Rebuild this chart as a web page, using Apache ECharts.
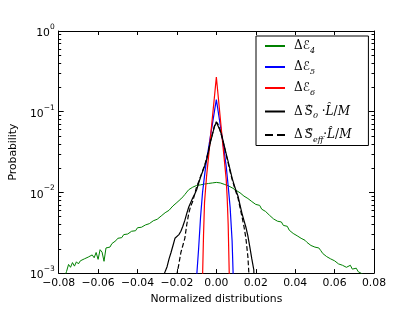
<!DOCTYPE html>
<html><head><meta charset="utf-8">
<script src="https://cdn.jsdelivr.net/npm/echarts@6/dist/echarts.min.js"></script>
<style>html,body{margin:0;padding:0;background:#fff}#c{width:416px;height:310px}</style>
</head><body><div id="c"></div>
<script>
// ---- data ----
const xTicks = [-0.08, -0.06, -0.04, -0.02, 0.00, 0.02, 0.04, 0.06, 0.08];
const yTicks = [0.001, 0.01, 0.1, 1];
const yMinor = [0.002,0.003,0.004,0.005,0.006,0.007,0.008,0.009,0.02,0.03,0.04,0.05,0.06,0.07,0.08,0.09,0.2,0.3,0.4,0.5,0.6,0.7,0.8,0.9];
const seriesNames = ['dE4','dE5','dE6','dS0','dSeff'];

const dE4 = [[-0.077,0.0009],[-0.076,0.00105],[-0.075,0.00128],[-0.074,0.00118],[-0.073,0.00135],[-0.072,0.00122],[-0.071,0.00138],[-0.070,0.0013],[-0.069,0.00142],[-0.068,0.00136],[-0.067,0.0015],[-0.066,0.00145],[-0.065,0.00158],[-0.064,0.0015],[-0.063,0.00168],[-0.062,0.00155],[-0.061,0.0018],[-0.060,0.00148],[-0.059,0.00195],[-0.058,0.00182],[-0.057,0.0014],[-0.056,0.00205],[-0.055,0.00215],[-0.054,0.0021],[-0.053,0.00232],[-0.052,0.0024],[-0.051,0.00252],[-0.050,0.0027],[-0.049,0.00285],[-0.048,0.00275],[-0.047,0.003],[-0.046,0.0031],[-0.045,0.00305],[-0.044,0.0032],[-0.043,0.0033],[-0.042,0.00345],[-0.041,0.00335],[-0.040,0.00365],[-0.039,0.0038],[-0.038,0.0037],[-0.037,0.00355],[-0.036,0.00395],[-0.035,0.0039],[-0.034,0.0041],[-0.033,0.0042],[-0.032,0.00445],[-0.031,0.0047],[-0.030,0.00465],[-0.029,0.0049],[-0.028,0.0051],[-0.027,0.00525],[-0.026,0.0056],[-0.025,0.0058],[-0.024,0.006],[-0.023,0.0064],[-0.022,0.0068],[-0.021,0.007],[-0.020,0.0075],[-0.019,0.0079],[-0.018,0.0083],[-0.017,0.0088],[-0.016,0.0094],[-0.015,0.0101],[-0.014,0.0108],[-0.013,0.0113],[-0.012,0.0116],[-0.011,0.012],[-0.010,0.0122],[-0.009,0.0125],[-0.008,0.0124],[-0.007,0.0128],[-0.006,0.0127],[-0.005,0.013],[-0.004,0.0129],[-0.003,0.0132],[-0.002,0.0131],[-0.001,0.0134],[0.000,0.0133],[0.001,0.0135],[0.002,0.0131],[0.003,0.0129],[0.004,0.0126],[0.005,0.0124],[0.006,0.0121],[0.007,0.0118],[0.008,0.0114],[0.009,0.011],[0.010,0.0106],[0.011,0.0102],[0.012,0.0099],[0.013,0.0095],[0.014,0.009],[0.015,0.0088],[0.016,0.0084],[0.017,0.0081],[0.018,0.0077],[0.019,0.0074],[0.020,0.0071],[0.021,0.0068],[0.022,0.0069],[0.023,0.0062],[0.024,0.006],[0.025,0.0058],[0.026,0.0055],[0.027,0.0052],[0.028,0.005],[0.029,0.0047],[0.030,0.0048],[0.031,0.0044],[0.032,0.0042],[0.033,0.0043],[0.034,0.0039],[0.035,0.0037],[0.036,0.0038],[0.037,0.0034],[0.038,0.0033],[0.039,0.0031],[0.040,0.0032],[0.041,0.0029],[0.042,0.003],[0.043,0.0027],[0.044,0.0028],[0.045,0.00255],[0.046,0.0024],[0.047,0.00245],[0.048,0.0022],[0.049,0.0023],[0.050,0.0021],[0.051,0.002],[0.052,0.00205],[0.053,0.0019],[0.054,0.00175],[0.055,0.00178],[0.056,0.0016],[0.057,0.00165],[0.058,0.0015],[0.059,0.00155],[0.060,0.00142],[0.061,0.00138],[0.062,0.0013],[0.063,0.00136],[0.064,0.00125],[0.065,0.00128],[0.066,0.00118],[0.067,0.0012],[0.068,0.00125],[0.069,0.00112],[0.070,0.00108],[0.071,0.00115],[0.072,0.00104],[0.073,0.00106],[0.074,0.00098],[0.075,0.00103],[0.076,0.0009]];

const dE5 = [[-0.0105,0.0005],[-0.010,0.0009],[-0.009,0.002],[-0.008,0.005],[-0.007,0.01],[-0.006,0.016],[-0.005,0.025],[-0.004,0.035],[-0.003,0.05],[-0.002,0.07],[-0.001,0.1],[0.000,0.141],[0.001,0.098],[0.002,0.068],[0.003,0.047],[0.004,0.032],[0.005,0.021],[0.006,0.012],[0.007,0.0065],[0.008,0.0025],[0.0085,0.001],[0.009,0.0005]];

const dE6 = [[-0.0073,0.0005],[-0.007,0.0009],[-0.0065,0.003],[-0.006,0.0075],[-0.005,0.0155],[-0.004,0.027],[-0.003,0.048],[-0.002,0.085],[-0.001,0.15],[0.000,0.268],[0.001,0.15],[0.002,0.083],[0.003,0.046],[0.004,0.026],[0.005,0.0145],[0.0055,0.0085],[0.006,0.004],[0.0065,0.0011],[0.0068,0.0005]];

const dS0 = [[-0.027,0.0005],[-0.0263,0.001],[-0.025,0.0012],[-0.024,0.0015],[-0.023,0.0018],[-0.022,0.0022],[-0.021,0.0027],[-0.020,0.0028],[-0.019,0.003],[-0.018,0.0033],[-0.017,0.0038],[-0.016,0.0045],[-0.015,0.0055],[-0.014,0.0066],[-0.013,0.0075],[-0.012,0.0085],[-0.011,0.0095],[-0.010,0.0108],[-0.009,0.013],[-0.008,0.0155],[-0.007,0.018],[-0.006,0.021],[-0.005,0.025],[-0.004,0.032],[-0.003,0.042],[-0.002,0.052],[-0.001,0.065],[0.000,0.074],[0.0005,0.077],[0.001,0.07],[0.002,0.058],[0.003,0.048],[0.004,0.038],[0.005,0.03],[0.006,0.024],[0.007,0.019],[0.008,0.015],[0.009,0.0125],[0.010,0.0105],[0.011,0.009],[0.012,0.007],[0.013,0.0055],[0.014,0.0045],[0.015,0.0037],[0.016,0.0029],[0.017,0.0021],[0.018,0.0015],[0.019,0.0011],[0.0195,0.0005]];

const dSeff = [[-0.021,0.0005],[-0.0199,0.001],[-0.019,0.0013],[-0.018,0.0018],[-0.017,0.0022],[-0.016,0.0027],[-0.015,0.004],[-0.014,0.0055],[-0.013,0.0068],[-0.012,0.0077],[-0.011,0.0095],[-0.010,0.0118],[-0.009,0.0135],[-0.008,0.0158],[-0.007,0.0185],[-0.006,0.0215],[-0.005,0.026],[-0.004,0.033],[-0.003,0.043],[-0.002,0.053],[-0.001,0.066],[0.000,0.075],[0.0005,0.076],[0.001,0.069],[0.002,0.057],[0.003,0.047],[0.004,0.037],[0.005,0.029],[0.006,0.023],[0.007,0.018],[0.008,0.0145],[0.009,0.012],[0.010,0.01],[0.011,0.0085],[0.012,0.0065],[0.013,0.005],[0.014,0.0038],[0.015,0.0027],[0.016,0.0016],[0.0165,0.001],[0.017,0.0005]];

// ---- chart ----
const FONT = 'DejaVu Sans';
const SERIF = 'DejaVu Serif';
const chart = echarts.init(document.getElementById('c'), null, {renderer: 'canvas'});
const legendText = {
  dE4: '{m|Δ}{c|ℰ}{s|4}',
  dE5: '{m|Δ}{c|ℰ}{s|5}',
  dE6: '{m|Δ}{c|ℰ}{s|6}',
  dS0: '{m|Δ}{ar|→}{i|S}{s|0}{m| ·}{i|L̂}{m|/}{i|M}',
  dSeff: '{m|Δ}{ar|→}{i|S}{s|eff}{m|·}{i|L̂}{m|/}{i|M}'
};
const supExp = v => { const e = Math.round(Math.log10(v)); return e < 0 ? '−' + (-e) : String(e); };
const gridBox = {left: 52, right: 42, top: 31, bottom: 32};
const lineAx = {show: true, onZero: false, lineStyle: {color: '#000', width: 1}};
function mk(name, data, color, type, width) {
  return {name: name, type: 'line', data: data, symbol: 'none', clip: true, silent: true,
    lineStyle: {color: color, width: width, type: type}, itemStyle: {color: color}};
}
chart.setOption({
  animation: false,
  backgroundColor: '#fff',
  grid: gridBox,
  xAxis: [
    {type: 'value', position: 'bottom', min: -0.08, max: 0.08, interval: 0.02,
     axisLine: lineAx, splitLine: {show: false},
     axisTick: {inside: true, length: 4, lineStyle: {color: '#000'}},
     axisLabel: {color: '#000', fontFamily: FONT, fontSize: 10.8, margin: 5,
       formatter: v => (v < 0 ? '−' : '') + Math.abs(v).toFixed(2)},
     name: 'Normalized distributions', nameLocation: 'middle', nameGap: 15,
     nameTextStyle: {color: '#000', fontFamily: FONT, fontSize: 10.8}},
    {type: 'value', position: 'top', min: -0.08, max: 0.08, interval: 0.02,
     axisLine: lineAx, splitLine: {show: false},
     axisTick: {inside: true, length: 4, lineStyle: {color: '#000'}},
     axisLabel: {show: false}}
  ],
  yAxis: [
    {type: 'log', logBase: 10, position: 'left', min: 0.001, max: 1,
     axisLine: lineAx, splitLine: {show: false},
     axisTick: {inside: true, length: 5, customValues: yTicks, lineStyle: {color: '#000'}},
     axisLabel: {customValues: yTicks, margin: 4, color: '#000', fontFamily: FONT,
       formatter: v => '{b|10}{p|' + supExp(v) + '}',
       rich: {b: {fontFamily: FONT, fontSize: 10.8, color: '#000', lineHeight: 16, verticalAlign: 'bottom'},
              p: {fontFamily: FONT, fontSize: 7.5, color: '#000', lineHeight: 16, verticalAlign: 'top'}}},
     name: 'Probability', nameLocation: 'middle', nameGap: 33, nameRotate: 90,
     nameTextStyle: {color: '#000', fontFamily: FONT, fontSize: 10.8}},
    {type: 'log', logBase: 10, position: 'right', min: 0.001, max: 1,
     axisLine: lineAx, splitLine: {show: false},
     axisTick: {inside: true, length: 5, customValues: yTicks, lineStyle: {color: '#000'}},
     axisLabel: {show: false}},
    {type: 'log', logBase: 10, position: 'left', offset: 0, min: 0.001, max: 1,
     axisLine: {show: false, onZero: false}, splitLine: {show: false},
     axisTick: {inside: true, length: 2.5, customValues: yMinor, lineStyle: {color: '#000'}},
     axisLabel: {show: false}},
    {type: 'log', logBase: 10, position: 'right', offset: 0, min: 0.001, max: 1,
     axisLine: {show: false, onZero: false}, splitLine: {show: false},
     axisTick: {inside: true, length: 2.5, customValues: yMinor, lineStyle: {color: '#000'}},
     axisLabel: {show: false}}
  ],
  legend: {
    orient: 'vertical', left: 256, top: 36, data: seriesNames,
    backgroundColor: '#fff', borderColor: '#000', borderWidth: 1, borderRadius: 0,
    padding: [4, 17, 2, 8], itemGap: 6.5, itemWidth: 20, itemHeight: 15,
    itemStyle: {opacity: 0},
    formatter: n => legendText[n],
    textStyle: {color: '#000', padding: [0, 0, 0, 4],
      rich: {
        m: {fontFamily: SERIF, fontSize: 12, color: '#000', lineHeight: 17},
        c: {fontFamily: FONT, fontSize: 12, color: '#000', lineHeight: 17},
        i: {fontFamily: SERIF, fontSize: 12, fontStyle: 'italic', color: '#000', lineHeight: 17},
        ar: {fontFamily: FONT, fontSize: 7, color: '#000', lineHeight: 17, width: 0.01, verticalAlign: 'top', padding: [0, 0, 0, 2]},
        s: {fontFamily: SERIF, fontSize: 8, fontStyle: 'italic', color: '#000', lineHeight: 17, verticalAlign: 'bottom'}
      }}
  },
  series: [
    mk('dE4', dE4, '#008000', 'solid', 1),
    mk('dE5', dE5, '#0000ff', 'solid', 1.2),
    mk('dE6', dE6, '#ff0000', 'solid', 1.2),
    mk('dS0', dS0, '#000000', 'solid', 1.2),
    mk('dSeff', dSeff, '#000000', 'dashed', 1.2)
  ]
});
</script></body></html>
